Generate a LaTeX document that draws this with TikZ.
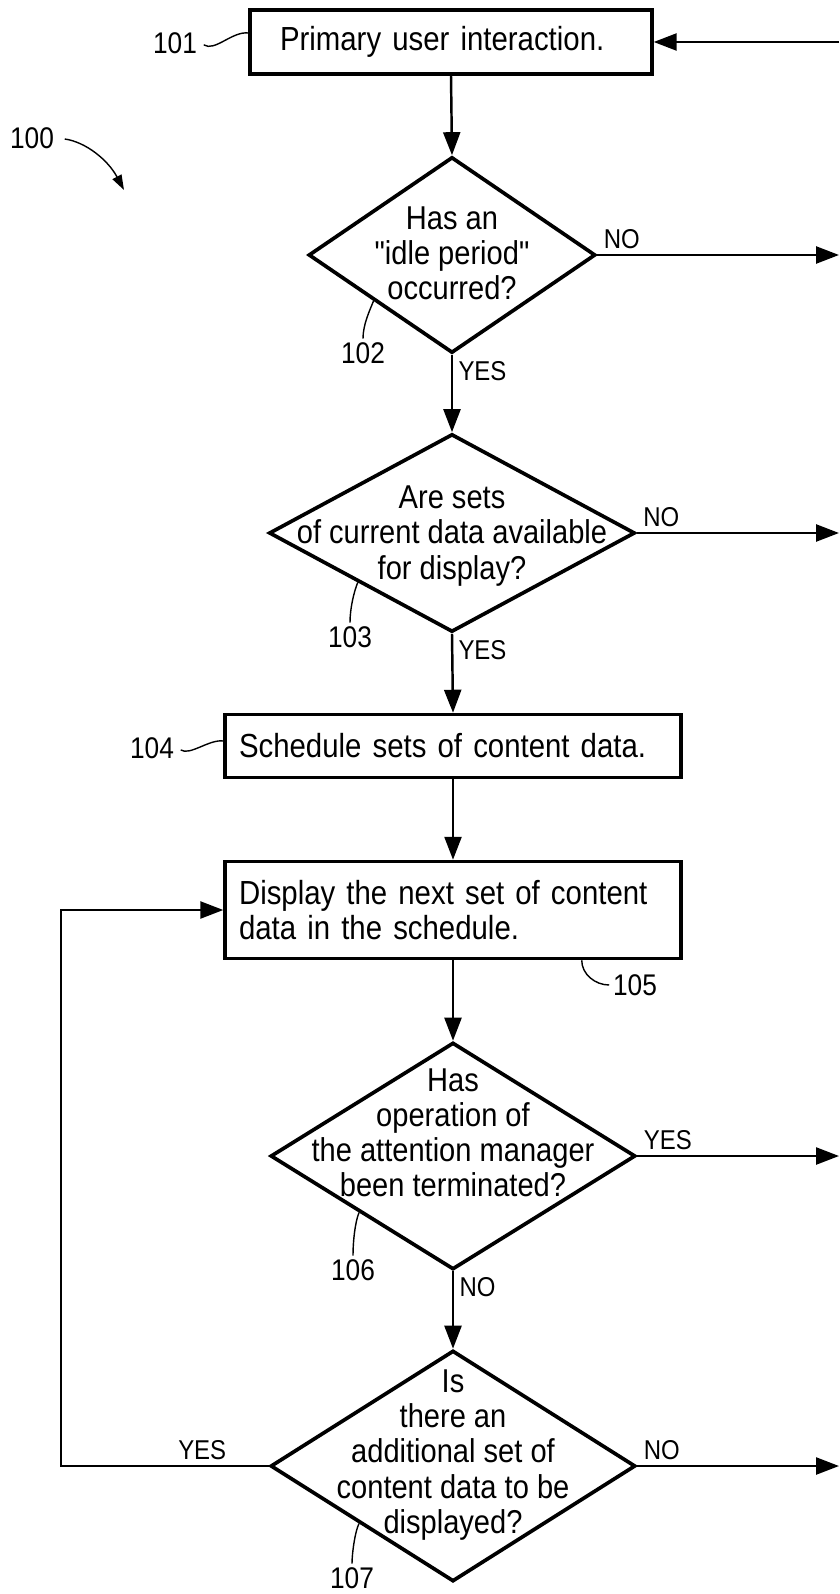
\documentclass[tikz,border=0pt]{standalone}
\usepackage{fontspec}
\setmainfont{Liberation Sans}[FakeStretch=0.88]
\newfontfamily\plainquote{Liberation Sans}[FakeStretch=0.88]
\newcommand{\dquote}{{\plainquote\symbol{34}}}
\usetikzlibrary{shapes.geometric,arrows.meta,calc}

\tikzset{
  stepbox/.style={draw, line width=2pt, inner sep=0pt, align=left,
    font=\fontsize{19}{20}\selectfont},
  decision/.style={draw, diamond, line width=2.1pt, inner sep=0pt},
  question/.style={align=center, inner sep=0pt, font=\fontsize{18.8}{20}\selectfont},
  flow/.style={line width=1.4pt, -{Triangle[length=0.46cm,width=0.34cm]}},
  answer/.style={inner sep=3pt, font=\fontsize{15.5}{16}\selectfont},
  refnum/.style={inner sep=2pt, font=\fontsize{17}{18}\selectfont},
  lead/.style={line width=0.8pt}
}

\begin{document}
\begin{tikzpicture}[x=0.02cm, y=-0.02cm]
\useasboundingbox (0,0) rectangle (839,1594);

% Steps
\node[stepbox, minimum width=8.04cm, minimum height=1.28cm, text width=6.84cm]
  (b101) at (451,42) {Primary user interaction.};
\node[decision, minimum width=5.74cm, minimum height=3.92cm] (d102) at (452,255) {};
\node[question] (q102) at (452,253) {Has an\\\dquote idle period\dquote\\occurred?};
\node[decision, minimum width=7.32cm, minimum height=3.96cm] (d103) at (452,533) {};
\node[question] (q103) at (452,536) {Are sets\\of current data available\\for display?};
\node[stepbox, minimum width=9.12cm, minimum height=1.26cm, text width=8.56cm]
  (b104) at (453,746) {Schedule sets of content data.};
\node[stepbox, minimum width=9.12cm, minimum height=1.94cm, text width=8.56cm]
  (b105) at (453,910) {Display the next set of content\\data in the schedule.};
\node[decision, minimum width=7.3cm, minimum height=4.54cm] (d106) at (453,1156) {};
\node[question] (q106) at (453,1133) {Has\\operation of\\the attention manager\\been terminated?};
\node[decision, minimum width=7.3cm, minimum height=4.62cm] (d107) at (453,1466) {};
\node[question] (q107) at (453,1455) {Is\\there an\\additional set of\\content data to be\\displayed?};

% Free ends
\coordinate (edge) at (839,0);
\coordinate (back) at (839,42);
\coordinate (loop) at (61,1466);
\coordinate (p100) at (124,190);

% Flow
\draw[flow] (back) -- (b101.east);
\draw[flow] (b101.south) -- (d102.north);
\draw[flow] (d102.south) -- node[answer, below right, pos=0] {YES} (d103.north);
\draw[flow] (d103.south) -- node[answer, below right, pos=0] {YES} (b104.north);
\draw[flow] (b104.south) -- (b105.north);
\draw[flow] (b105.south) -- (d106.north);
\draw[flow] (d106.south) -- node[answer, below right, pos=0] {NO} (d107.north);
\draw[flow] (d102.east) -- node[answer, above right, pos=0] {NO} (d102.east -| edge);
\draw[flow] (d103.east) -- node[answer, above right, pos=0] {NO} (d103.east -| edge);
\draw[flow] (d106.east) -- node[answer, above right, pos=0] {YES} (d106.east -| edge);
\draw[flow] (d107.east) -- node[answer, above right, pos=0] {NO} (d107.east -| edge);
\draw[flow] (d107.west) -- node[answer, above, pos=0.32] {YES} (loop) |- (b105.west);

% Reference numerals
\node[refnum] (l100) at (32,138) {100};
\node[refnum] (l101) at (175,43) {101};
\node[refnum] (l102) at (363,353) {102};
\node[refnum] (l103) at (350,637) {103};
\node[refnum] (l104) at (152,748) {104};
\node[refnum] (l105) at (635,985) {105};
\node[refnum] (l106) at (353,1270) {106};
\node[refnum] (l107) at (352,1578) {107};

\draw[lead, shorten <=4pt, -{Triangle[length=0.3cm,width=0.2cm]}]
  (l100.east) .. controls +(28,4) and +(-16,-30) .. (p100);
\draw[lead, shorten <=2pt] (l101.east) .. controls +(14,9) and +(-16,-2) .. ($(b101.west)+(0,-9)$);
\draw[lead, shorten <=2pt] (l104.east) .. controls +(12,8) and +(-14,-2) .. ($(b104.west)+(0,-5)$);
\draw[lead] (l105.west) .. controls +(-14,0) and +(0,14) .. ($(b105.south east)+(-101,0)$);
\draw[lead] (l102.north) .. controls +(0,-14) and +(-4,10) .. ($(d102.west)!0.46!(d102.south)$);
\draw[lead] (l103.north) .. controls +(0,-14) and +(-4,10) .. ($(d103.west)!0.49!(d103.south)$);
\draw[lead] (l106.north) .. controls +(0,-14) and +(-4,10) .. ($(d106.west)!0.49!(d106.south)$);
\draw[lead] (l107.north) .. controls +(0,-10) and +(-4,8) .. ($(d107.west)!0.49!(d107.south)$);

\end{tikzpicture}
\end{document}
